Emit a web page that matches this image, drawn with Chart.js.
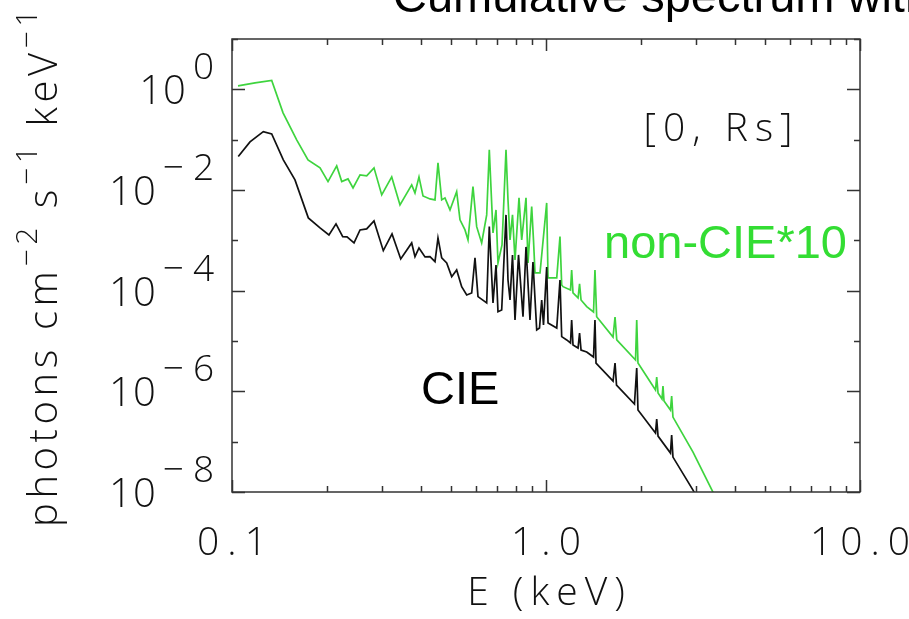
<!DOCTYPE html>
<html>
<head>
<meta charset="utf-8">
<title>Cumulative spectrum</title>
<script src="https://cdn.jsdelivr.net/npm/chart.js@4/dist/chart.umd.min.js"></script>
<style>
    html, body { margin: 0; padding: 0; background: #fff; overflow: hidden; }
    canvas { display: block; }
</style>
</head>
<body>
<canvas id="spectrumChart" width="909" height="619"></canvas>
<script>
'use strict';

// ====== DATA ======
// CIE spectrum, photons cm^-2 s^-1 keV^-1 vs E (keV)
const cieEnergy = [
    0.1047, 0.1141, 0.1258, 0.1338, 0.1457, 0.1587, 0.1750, 0.1907, 0.2036, 0.2144,
    0.2252, 0.2324, 0.2447, 0.2557, 0.2685, 0.2833, 0.3033, 0.3233, 0.3446, 0.3735,
    0.3826, 0.3940, 0.4118, 0.4271, 0.4431, 0.4529, 0.4654, 0.4828, 0.5008, 0.5194,
    0.5388, 0.5591, 0.5799, 0.5941, 0.6073, 0.6473, 0.6598, 0.6780, 0.6931, 0.7032,
    0.7226, 0.7458, 0.7568, 0.7681, 0.7822, 0.7967, 0.8174, 0.8448, 0.8636, 0.8892,
    0.9089, 0.9342, 0.9535, 0.9690, 0.9818, 1.005, 1.015, 1.082, 1.108, 1.122,
    1.164, 1.197, 1.207, 1.219, 1.265, 1.279, 1.293, 1.348, 1.417, 1.432,
    1.443, 1.635, 1.659, 1.677, 1.913, 1.945, 1.963, 2.232, 2.252, 2.274,
    2.491, 2.513, 2.537, 2.939, 3.162
];
const cieFlux = [
    0.0461, 0.0904, 0.1449, 0.1303, 0.0397, 0.01588, 0.00279, 0.001765, 0.00128, 0.00212,
    0.001185, 0.001169, 0.000888, 0.00161, 0.001686, 0.00243, 0.000624, 0.00134, 0.000427, 0.000888,
    0.000474, 0.000706, 0.000468, 0.000474, 0.000377, 0.001116, 0.000447, 0.000356, 0.00019, 0.000258,
    0.00012, 8.22e-5, 9.0e-5, 0.000447, 7.6e-5, 5.69e-5, 0.00187, 5.69e-5, 0.000324, 3.82e-5,
    4.13e-5, 0.0032, 0.000163, 6.53e-5, 0.000513, 2.61e-5, 0.000513, 3.04e-5, 0.00074, 2.61e-5,
    0.000372, 1.66e-5, 1.81e-5, 6.53e-5, 2.08e-5, 0.000296, 2.28e-5, 1.81e-5, 0.000163, 1.22e-5,
    1.05e-5, 9.12e-6, 2.61e-5, 8.32e-6, 7.26e-6, 1.44e-5, 6.62e-6, 6.04e-6, 4.81e-6, 2.61e-5,
    3.65e-6, 1.6e-6, 3.65e-6, 1.33e-6, 5.6e-7, 2.9e-6, 4.25e-7, 1.48e-7, 2.81e-7, 1.29e-7,
    5.93e-8, 1.35e-7, 4.94e-8, 1.09e-8, 4.79e-9
];

// non-CIE spectrum, scaled up by 10
const nonCieEnergy = [
    0.1045, 0.1184, 0.1338, 0.1454, 0.1607, 0.1746, 0.1907, 0.2022, 0.2155, 0.2236,
    0.2341, 0.2429, 0.2557, 0.2685, 0.2833, 0.2998, 0.3226, 0.3428, 0.3735, 0.3826,
    0.3940, 0.4058, 0.4271, 0.4431, 0.4529, 0.4654, 0.4767, 0.4946, 0.5194, 0.5322,
    0.5521, 0.5644, 0.5854, 0.6015, 0.6239, 0.6473, 0.6598, 0.6780, 0.6931, 0.7032,
    0.7243, 0.7458, 0.7568, 0.7681, 0.7822, 0.7967, 0.8204, 0.8368, 0.8636, 0.8764,
    0.9004, 0.9123, 0.9226, 0.9570, 1.005, 1.015, 1.082, 1.108, 1.122, 1.133,
    1.197, 1.207, 1.219, 1.265, 1.279, 1.293, 1.348, 1.417, 1.432, 1.450,
    1.635, 1.659, 1.680, 1.928, 1.945, 1.963, 2.232, 2.252, 2.274, 2.341,
    2.358, 2.376, 2.491, 2.513, 2.537, 2.939, 3.402, 3.716
];
const nonCieFlux = [
    1.174, 1.346, 1.496, 0.341, 0.0991, 0.0397, 0.0275, 0.01469, 0.0301, 0.01469,
    0.01663, 0.01101, 0.01995, 0.01906, 0.0275, 0.00799, 0.0182, 0.00506, 0.01262, 0.00875,
    0.0182, 0.00763, 0.00665, 0.00635, 0.0346, 0.00635, 0.00697, 0.00402, 0.00929, 0.00255,
    0.00161, 0.00102, 0.01169, 0.00187, 0.000888, 0.0032, 0.0627, 0.0014, 0.00402, 0.000356,
    0.00081, 0.0627, 0.00635, 0.00102, 0.0032, 0.000407, 0.00697, 0.00102, 0.00697, 0.000356,
    0.00468, 0.00102, 0.000225, 0.000225, 0.00554, 0.000179, 0.000179, 0.001185, 0.00013, 0.00012,
    0.000103, 0.000258, 9.0e-5, 7.16e-5, 0.000136, 6.53e-5, 4.81e-5, 3.77e-5, 0.000258, 3.04e-5,
    1.2e-5, 3.0e-5, 1.05e-5, 4.19e-6, 2.61e-5, 3.65e-6, 1.06e-6, 1.92e-6, 9.25e-7, 7.03e-7,
    1.27e-6, 6.41e-7, 4.25e-7, 8.07e-7, 3.08e-7, 6.21e-8, 9.95e-9, 3.47e-9
];

// Axis ranges and tick labels
const xRange = [0.1, 10];
const yRange = [1e-8, 10];
const xTickValues = [0.1, 1, 10];
const xTickLabels = ['0.1', '1.0', '10.0'];
const yTickExponents = [0, -2, -4, -6, -8];

// ====== STYLE ======
const THIN_FAMILY = '"Open Sans", "DejaVu Sans", sans-serif';
const PLAIN_FAMILY = '"Liberation Sans", Arial, sans-serif';
const AXIS_COLOR = '#333';
const TEXT_COLOR = '#111';
const CIE_COLOR = '#111';
const NON_CIE_COLOR = '#3ed43e';
const LABEL_GREEN = '#33dd33';

// ====== HELPERS ======
function toPoints(xs, ys) {
    return xs.map((x, i) => ({ x, y: ys[i] }));
}

function setFont(ctx, size, family, weight) {
    ctx.font = `${weight || 'normal'} ${size}px ${family}`;
}

// Draw text with optional letter spacing, returns the drawn width
function drawText(ctx, text, x, y, opts = {}) {
    const spacing = opts.spacing || 0;
    ctx.letterSpacing = spacing + 'px';
    const w = ctx.measureText(text).width - spacing;
    let left = x;
    if (opts.align === 'center') left = x - w / 2;
    else if (opts.align === 'right') left = x - w;
    ctx.textAlign = 'left';
    ctx.fillText(text, left, y);
    ctx.letterSpacing = '0px';
    return w;
}

// ====== FRAME, TICKS AND LABELS ======
const frameAxes = {
    id: 'frameAxes',
    beforeDraw(chart) {
        const ctx = chart.ctx;
        ctx.save();
        ctx.fillStyle = '#fff';
        ctx.fillRect(0, 0, chart.width, chart.height);
        ctx.restore();
    },
    afterDraw(chart) {
        const { ctx, chartArea: a } = chart;
        const xs = chart.scales.x;
        const ys = chart.scales.y;

        ctx.save();
        ctx.strokeStyle = AXIS_COLOR;
        ctx.lineWidth = 1.5;
        ctx.strokeRect(a.left, a.top, a.right - a.left, a.bottom - a.top);

        // x ticks: decades long, 2..9 short, on bottom and top edges
        ctx.beginPath();
        for (let d = -1; d <= 1; d++) {
            for (let m = 1; m <= 9; m++) {
                if (d === 1 && m > 1) break;
                const px = Math.round(xs.getPixelForValue(m * Math.pow(10, d))) + 0.5;
                const len = m === 1 ? 12 : 6;
                ctx.moveTo(px, a.bottom); ctx.lineTo(px, a.bottom - len);
                ctx.moveTo(px, a.top); ctx.lineTo(px, a.top + len);
            }
        }
        // y ticks: every decade, labelled decades longer
        for (let e = -8; e <= 1; e++) {
            const py = Math.round(ys.getPixelForValue(Math.pow(10, e))) + 0.5;
            const len = e % 2 === 0 ? 13 : 6;
            ctx.moveTo(a.left, py); ctx.lineTo(a.left + len, py);
            ctx.moveTo(a.right, py); ctx.lineTo(a.right - len, py);
        }
        ctx.stroke();

        ctx.fillStyle = TEXT_COLOR;
        ctx.textBaseline = 'alphabetic';

        // y tick labels 10^n
        yTickExponents.forEach(e => {
            const py = ys.getPixelForValue(Math.pow(10, e));
            setFont(ctx, 37, THIN_FAMILY, 300);
            const expText = e < 0 ? '\u2212' + (-e) : String(e);
            const expW = drawText(ctx, expText, 214, py - 10, { align: 'right', spacing: 9 });
            setFont(ctx, 40, THIN_FAMILY, 300);
            drawText(ctx, '10', 214 - expW - 7, py + 15, { align: 'right', spacing: 1 });
        });

        // x tick labels
        setFont(ctx, 39, THIN_FAMILY, 300);
        xTickValues.forEach((v, i) => {
            drawText(ctx, xTickLabels[i], xs.getPixelForValue(v), 555, { align: 'center', spacing: 8 });
        });

        // x axis title
        drawText(ctx, 'E (keV)', (a.left + a.right) / 2, 605, { align: 'center', spacing: 7 });

        // y axis title, rotated, superscripts raised; spread to fill the left edge
        const parts = [
            ['photons cm', false], ['\u22122', true], [' s', false],
            ['\u22121', true], [' keV', false], ['\u22121', true]
        ];
        const mainFont = 40, supFont = 30, titleLength = 522;
        let natural = 0, chars = 0;
        parts.forEach(([txt, sup]) => {
            setFont(ctx, sup ? supFont : mainFont, THIN_FAMILY, 300);
            natural += ctx.measureText(txt).width;
            chars += txt.length;
        });
        const spread = Math.max(0, (titleLength - natural) / chars);
        ctx.save();
        ctx.translate(57, 527);
        ctx.rotate(-Math.PI / 2);
        let cx = 0;
        parts.forEach(([txt, sup]) => {
            setFont(ctx, sup ? supFont : mainFont, THIN_FAMILY, 300);
            cx += drawText(ctx, txt, cx, sup ? -20 : 0, { spacing: spread }) + spread;
        });
        ctx.restore();

        // region label
        setFont(ctx, 39, THIN_FAMILY, 300);
        drawText(ctx, '[0, Rs]', 718, 141, { align: 'center', spacing: 7 });

        // series labels
        setFont(ctx, 47, PLAIN_FAMILY, 'normal');
        ctx.fillStyle = '#000';
        drawText(ctx, 'CIE', 421, 404);
        ctx.fillStyle = LABEL_GREEN;
        drawText(ctx, 'non-CIE*10', 847, 258, { align: 'right' });

        // title, runs off the top of the page
        ctx.fillStyle = '#000';
        drawText(ctx, 'Cumulative spectrum with', 393, 12);

        ctx.restore();
    }
};

// ====== CHART ======
const spectrumChart = new Chart(document.getElementById('spectrumChart'), {
    type: 'line',
    data: {
        datasets: [
            {
                label: 'CIE',
                data: toPoints(cieEnergy, cieFlux),
                borderColor: CIE_COLOR,
                borderWidth: 1.7,
                pointRadius: 0,
                tension: 0,
                fill: false
            },
            {
                label: 'non-CIE*10',
                data: toPoints(nonCieEnergy, nonCieFlux),
                borderColor: NON_CIE_COLOR,
                borderWidth: 1.7,
                pointRadius: 0,
                tension: 0,
                fill: false
            }
        ]
    },
    options: {
        responsive: false,
        animation: false,
        devicePixelRatio: 1,
        layout: { padding: { left: 232, right: 49, top: 39, bottom: 127 } },
        plugins: { legend: { display: false }, tooltip: { enabled: false } },
        scales: {
            x: { type: 'logarithmic', min: xRange[0], max: xRange[1], display: false },
            y: { type: 'logarithmic', min: yRange[0], max: yRange[1], display: false }
        }
    },
    plugins: [frameAxes]
});
</script>
</body>
</html>
